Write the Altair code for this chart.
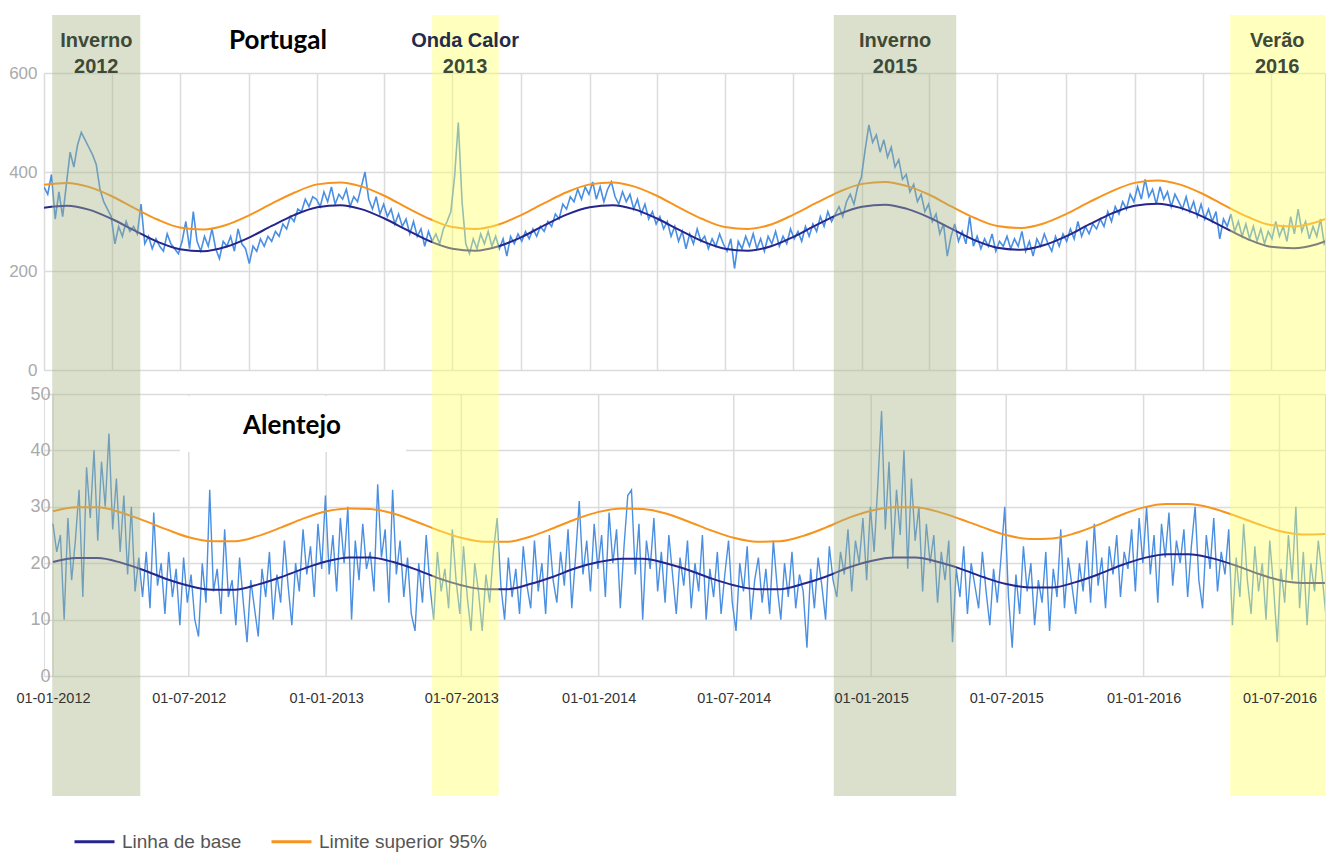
import altair as alt
import pandas as pd

# ---------------- data ----------------
START_DATE = "2012-01-01"
STEP_DAYS = 5

# Portugal: observed deaths (one reading every 5 days)
pt_obitos = [
    370, 355, 395, 305, 360, 310, 375, 440, 410, 455, 480, 465,
    450, 435, 415, 365, 340, 325, 310, 255, 290, 270, 300, 280,
    290, 275, 335, 255, 270, 245, 265, 250, 240, 275, 255, 245,
    235, 260, 300, 245, 320, 260, 240, 270, 250, 285, 245, 225,
    260, 250, 270, 240, 285, 255,
    245, 215, 250, 240, 265, 250, 270, 260, 280, 270, 295, 285, 310, 300, 325, 320, 345, 330, 350,
    # 2013
    345, 330, 360, 340, 370, 335, 355, 345, 365, 330, 350, 340,
    370, 400, 345, 325, 350, 315, 335, 310, 325, 295, 315, 290,
    305, 275, 300, 270, 285, 250, 280, 260, 275, 255, 285, 300,
    320, 390, 500, 340, 255, 235, 265, 245, 275, 255, 280, 250,
    270, 245, 265, 230, 270, 255, 275, 260, 280, 265,
    285, 270, 290, 280, 300, 290, 315, 305, 335, 325, 350, 340, 365, 345, 370,
    # 2014
    355, 380, 345, 370, 340, 365, 380, 350, 335, 360, 340, 355,
    325, 345, 315, 335, 305, 320, 295, 310, 285, 300, 270, 290,
    260, 280, 245, 275, 255, 285, 260, 270, 245, 265, 250, 275,
    255, 240, 265, 205, 260, 245, 270, 250, 275, 245, 265, 240,
    270, 255, 280, 250, 270, 255, 285, 265, 280, 260, 290, 270,
    295, 280, 310, 290, 320, 300, 315, 330, 310, 340, 355, 335, 370, 390,
    # 2015
    445, 495, 460, 475, 440, 465, 430, 450, 410, 425, 385, 395,
    360, 375, 340, 355, 320, 335, 300, 315, 275, 295, 230, 270,
    295, 260, 280, 255, 310, 250, 270, 245, 265, 250, 275, 240,
    260, 250, 270, 245, 265, 250, 280, 240, 260, 230, 265, 250,
    275, 255, 240, 270, 250, 275, 260, 285, 265, 300, 270, 290,
    275, 295, 285, 305, 290, 320, 300, 330, 315, 340, 325, 355,
    # 2016
    340, 370, 345, 385, 350, 365, 335, 370, 345, 360, 330, 355,
    340, 325, 350, 320, 340, 310, 335, 305, 325, 300, 320, 265,
    305, 290, 315, 280, 300, 270, 295, 265, 290, 260, 285, 255,
    280, 265, 300, 270, 290, 260, 310, 275, 325, 280, 300, 265,
    290, 270, 305, 255, 270, 235,
]

# Alentejo: observed deaths (one reading every 5 days)
al_obitos = [
    27, 22, 25, 10, 28, 17, 24, 33, 14, 37, 28, 40,
    24, 38, 30, 43, 26, 35, 22, 32, 18, 30, 15, 21,
    14, 22, 12, 29, 16, 20, 11, 22, 14, 19, 9, 21,
    13, 18, 10, 7, 20, 13, 33, 15, 19, 11, 26, 14,
    17, 9, 21, 13, 6, 17, 12, 7, 19, 14, 22, 10,
    18, 13, 24, 16, 9, 20, 15, 26, 18, 23, 14, 27, 19,
    # 2013
    32, 18, 25, 15, 28, 20, 30, 10, 24, 17, 27, 19,
    22, 15, 34, 21, 26, 13, 33, 18, 24, 14, 21, 11,
    8, 20, 13, 25, 16, 10, 22, 15, 19, 12, 26, 17,
    11, 23, 14, 8, 20, 15, 8, 18, 13, 22, 28, 16,
    10, 21, 14, 19, 11, 23, 16, 12, 24, 15, 20, 11,
    25, 17, 13, 22, 16, 26, 12, 21, 31, 18, 24, 15, 27,
    # 2014
    19, 25, 14, 29, 20, 26, 12, 23, 32, 33, 18, 27,
    10, 24, 19, 28, 15, 22, 13, 25, 18, 11, 21, 16,
    24, 12, 20, 15, 25, 10, 19, 14, 22, 11, 18, 24,
    13, 8, 20, 15, 23, 10, 17, 21, 13, 19, 11, 24,
    16, 10, 20, 14, 22, 12, 18, 15, 5, 19, 12, 21,
    16, 10, 23, 17, 14, 22, 18, 26, 15, 24, 20, 28, 17, 30,
    # 2015
    22, 34, 47, 26, 38, 21, 33, 25, 40, 19, 35, 24,
    30, 15, 27, 20, 25, 13, 22, 17, 24, 6, 19, 14,
    23, 11, 20, 16, 12, 22, 15, 9, 19, 13, 21, 30,
    14, 5, 18, 11, 23, 15, 20, 9, 17, 13, 22, 8,
    19, 14, 26, 12, 21, 16, 11, 20, 15, 24, 13, 27,
    16, 21, 12, 23, 18, 25, 14, 22, 19, 26, 15, 28,
    # 2016
    20, 30, 18, 25, 13, 27, 21, 29, 16, 24, 20, 26,
    14, 23, 30, 17, 12, 25, 19, 28, 15, 22, 18, 26,
    9, 21, 14, 27, 17, 11, 23, 15, 20, 10, 24, 16,
    6, 19, 13, 25, 17, 30, 12, 22, 9, 20, 15, 24,
    18, 11, 25, 14, 21, 9,
]

# Reference curves, one reading on the 1st of each month
REF_START = "2012-01-01"
pt_base = [
    328, 332, 324, 305, 282, 259, 244, 240, 249, 267, 291, 313,
    329, 333, 325, 306, 283, 260, 245, 241, 250, 268, 292, 314,
    329, 333, 325, 306, 283, 260, 245, 241, 250, 269, 293, 315,
    330, 334, 326, 308, 285, 262, 247, 243, 252, 270, 294, 316,
    332, 336, 328, 310, 287, 264, 249, 246, 254, 272,
]
pt_lim = [
    374, 378, 370, 351, 327, 304, 288, 284, 293, 312, 336, 358,
    375, 379, 371, 352, 328, 305, 289, 285, 294, 313, 337, 359,
    375, 379, 371, 352, 328, 305, 289, 285, 294, 314, 338, 360,
    376, 380, 372, 354, 330, 307, 291, 287, 296, 315, 339, 361,
    378, 383, 375, 356, 332, 309, 293, 290, 299, 317,
]
al_base = [
    20.2, 20.9, 20.9, 20.1, 18.8, 17.2, 16.0, 15.3, 15.3, 16.2, 17.5, 19.0,
    20.3, 21.0, 21.0, 20.2, 18.9, 17.3, 16.1, 15.4, 15.4, 16.3, 17.6, 19.1,
    20.2, 20.8, 20.8, 20.0, 18.8, 17.3, 16.1, 15.4, 15.4, 16.3, 17.6, 19.2,
    20.4, 21.0, 21.0, 20.2, 19.0, 17.5, 16.3, 15.7, 15.7, 16.6, 18.0, 19.6,
    20.9, 21.6, 21.6, 20.9, 19.7, 18.2, 17.0, 16.5, 16.5, 17.3,
]
al_lim = [
    29.2, 29.9, 29.9, 29.0, 27.6, 26.0, 24.6, 23.9, 23.9, 24.8, 26.3, 27.9,
    29.2, 29.7, 29.6, 28.8, 27.4, 25.8, 24.5, 23.8, 23.8, 24.7, 26.2, 27.8,
    29.1, 29.7, 29.6, 28.8, 27.4, 25.8, 24.5, 23.8, 23.9, 24.8, 26.3, 28.0,
    29.3, 29.9, 29.9, 29.1, 27.8, 26.3, 25.0, 24.3, 24.4, 25.3, 26.8, 28.5,
    29.9, 30.5, 30.5, 29.8, 28.5, 27.0, 25.7, 25.1, 25.2, 26.0,
]

series_names = ["Linha de base", "Limite superior 95%"]
panel_titles = ["Portugal", "Alentejo"]

# highlighted periods (dates read on the labelled, lower time axis)
band_line1 = ["Inverno", "Onda Calor", "Inverno", "Verão"]
band_line2 = ["2012", "2013", "2015", "2016"]
band_start = ["2011-12-31", "2013-05-23", "2014-11-12", "2016-04-26"]
band_end = ["2012-04-27", "2013-08-20", "2015-04-25", "2016-08-31"]

# labelled dates of the lower time axis
x_tick_dates = ["2012-01-01", "2012-07-01", "2013-01-01", "2013-07-01", "2014-01-01",
                "2014-07-01", "2015-01-01", "2015-07-01", "2016-01-01", "2016-07-01"]
x_label_format = "%d-%m-%Y"

# time windows; the upper picture is pasted 12 days (about 9 px) to the left
x_domain_bottom = ["2011-12-20", "2016-08-31"]
TOP_SHIFT_DAYS = 12

pt_y_ticks = [0, 200, 400, 600]
al_y_ticks = [0, 10, 20, 30, 40, 50]

# ---------------- styles ----------------
BLUE = "#4a8fe2"
NAVY = "#25258c"
ORANGE = "#f7941d"
GREEN_BAND = "#a7b586"
YELLOW_BAND = "#ffff64"
BAND_OPACITY = 0.42
OLIVE_TXT = "#3e4a36"
NAVY_TXT = "#1f2c4c"
GRID = "#dcdcdc"
FONT = "Liberation Sans"

W = 1281
H_TOP = 297
H_BOT = 282

# ---------------- tables ----------------
fmt = "%Y-%m-%d"
shift = pd.Timedelta(days=TOP_SHIFT_DAYS)

pt_obs = pd.DataFrame({
    "date": pd.date_range(START_DATE, periods=len(pt_obitos), freq=f"{STEP_DAYS}D").strftime(fmt),
    "value": pt_obitos,
})
al_obs = pd.DataFrame({
    "date": pd.date_range(START_DATE, periods=len(al_obitos), freq=f"{STEP_DAYS}D").strftime(fmt),
    "value": al_obitos,
})


def ref_table(base, lim):
    d = pd.date_range(REF_START, periods=len(base), freq="MS").strftime(fmt)
    return pd.concat([
        pd.DataFrame({"date": d, "value": base, "serie": series_names[0]}),
        pd.DataFrame({"date": d, "value": lim, "serie": series_names[1]}),
    ], ignore_index=True)


pt_ref = ref_table(pt_base, pt_lim)
al_ref = ref_table(al_base, al_lim)

bs = pd.to_datetime(pd.Series(band_start))
be = pd.to_datetime(pd.Series(band_end))
bands = pd.DataFrame({
    "l1": band_line1,
    "l2": band_line2,
    "start": bs.dt.strftime(fmt),
    "end": be.dt.strftime(fmt),
    "start_top": (bs + shift).dt.strftime(fmt),
    "end_top": (be + shift).dt.strftime(fmt),
    "mid_top": (bs + shift + (be - bs) / 2).dt.strftime(fmt),
})
ticks_df = pd.DataFrame({"date": x_tick_dates})


def dt(s):
    t = pd.Timestamp(s)
    return alt.DateTime(year=t.year, month=t.month, date=t.day, utc=True)


dom_bot = [dt(x_domain_bottom[0]), dt(x_domain_bottom[1])]
dom_top = [dt(pd.Timestamp(x_domain_bottom[0]) + shift), dt(pd.Timestamp(x_domain_bottom[1]) + shift)]

axis_x_top = alt.Axis(labels=False, ticks=False, tickSize=0, domain=False, grid=True,
                      gridColor=GRID, gridWidth=1.5, title=None,
                      tickCount={"interval": "month", "step": 3})
# labels drawn above the shaded periods; the vertical grid is drawn as rules below them
axis_x_bot = alt.Axis(values=[dt(d) for d in x_tick_dates],
                      labelExpr=f"utcFormat(datum.value, '{x_label_format}')", labelFontSize=14.5,
                      labelColor="#333333", labelFont=FONT, labelPadding=15, labelFlush=False,
                      ticks=False, tickSize=0, domain=False, grid=False, title=None, zindex=1)


def x_top(field):
    return alt.X(f"{field}:T", scale=alt.Scale(type="utc", domain=dom_top), axis=axis_x_top)


def x_bot(field):
    return alt.X(f"{field}:T", scale=alt.Scale(type="utc", domain=dom_bot), axis=axis_x_bot)


y_top = alt.Y("value:Q", scale=alt.Scale(domain=[0, 600]),
              axis=alt.Axis(values=pt_y_ticks, title=None, labelFontSize=17, labelColor="#aaaaaa",
                            labelFont=FONT, labelPadding=7, ticks=False, tickSize=0, domain=False,
                            gridColor=GRID, gridWidth=1.5))
y_bot = alt.Y("value:Q", scale=alt.Scale(domain=[0, 50]),
              axis=alt.Axis(values=al_y_ticks, title=None, labelFontSize=18, labelColor="#aaaaaa",
                            labelFont=FONT, labelPadding=3, offset=-9, ticks=False, tickSize=0,
                            domain=False, gridColor=GRID, gridWidth=1.5))

ref_color_top = alt.Color("serie:N", scale=alt.Scale(domain=series_names, range=[NAVY, ORANGE]),
                          legend=None)
ref_color_bot = alt.Color(
    "serie:N", scale=alt.Scale(domain=series_names, range=[NAVY, ORANGE]),
    legend=alt.Legend(orient="none", legendX=29, legendY=426, direction="horizontal", title=None,
                      symbolType="stroke", symbolSize=1600, symbolStrokeWidth=3,
                      labelFontSize=19, labelColor="#555555", labelFont=FONT, labelLimit=400,
                      labelOffset=6, columnPadding=23, padding=0))

band_color = alt.condition(alt.datum.l1 == "Inverno", alt.value(GREEN_BAND), alt.value(YELLOW_BAND))
label_color = alt.condition(alt.datum.l1 == "Onda Calor", alt.value(NAVY_TXT), alt.value(OLIVE_TXT))

# ---------------- upper panel: Portugal ----------------
top_obs = alt.Chart(pt_obs).mark_line(color=BLUE, strokeWidth=1.6, clip=True).encode(
    x=x_top("date"), y=y_top)
top_ref = alt.Chart(pt_ref).mark_line(strokeWidth=2, clip=True, interpolate="monotone").encode(
    x=x_top("date"), y=y_top, color=ref_color_top)
top_bands = alt.Chart(bands).mark_rect(opacity=BAND_OPACITY).encode(
    x=x_top("start_top"), x2="end_top:T",
    y=alt.value(-58), y2=alt.value(H_TOP), color=band_color)
top_lab1 = alt.Chart(bands).mark_text(fontSize=20, fontWeight="bold", font=FONT, baseline="middle").encode(
    x=x_top("mid_top"), y=alt.value(-32), text="l1:N", color=label_color)
top_lab2 = alt.Chart(bands).mark_text(fontSize=20, fontWeight="bold", font=FONT, baseline="middle",
                                      color=OLIVE_TXT).encode(
    x=x_top("mid_top"), y=alt.value(-6), text="l2:N")
top_title = alt.Chart(pd.DataFrame({"t": [panel_titles[0]]})).mark_text(
    fontSize=26, fontWeight="bold", font="Lato", color="black", baseline="middle").encode(
    x=alt.value(234), y=alt.value(-32), text="t:N")

top = alt.layer(top_obs, top_ref, top_bands, top_lab1, top_lab2, top_title).properties(
    width=W, height=H_TOP)

# ---------------- lower panel: Alentejo ----------------
bot_grid = alt.Chart(ticks_df).mark_rule(color=GRID, strokeWidth=1.5).encode(x=x_bot("date"))
bot_obs = alt.Chart(al_obs).mark_line(color=BLUE, strokeWidth=1.4, clip=True).encode(
    x=x_bot("date"), y=y_bot)
bot_ref = alt.Chart(al_ref).mark_line(strokeWidth=2, clip=True, interpolate="monotone").encode(
    x=x_bot("date"), y=y_bot, color=ref_color_bot)
bot_box = alt.Chart(pd.DataFrame({"t": [panel_titles[1]]})).mark_rect(color="white").encode(
    x=alt.value(136), x2=alt.value(362), y=alt.value(2), y2=alt.value(58))
bot_title = alt.Chart(pd.DataFrame({"t": [panel_titles[1]]})).mark_text(
    fontSize=26, fontWeight="bold", font="Lato", color="black", baseline="middle").encode(
    x=alt.value(248), y=alt.value(32), text="t:N")
bot_bands = alt.Chart(bands).mark_rect(opacity=BAND_OPACITY).encode(
    x=x_bot("start"), x2="end:T",
    y=alt.value(-24), y2=alt.value(402), color=band_color)

bottom = alt.layer(bot_grid, bot_obs, bot_ref, bot_box, bot_title, bot_bands).properties(
    width=W, height=H_BOT)

chart = alt.vconcat(top, bottom, spacing=24, bounds="flush").resolve_scale(
    x="independent", y="independent", color="independent"
).resolve_legend(color="independent").properties(
    padding={"left": 0, "top": 6, "right": 0, "bottom": 0}
).configure_view(stroke=None).configure(background="white")

chart.save("out.html", embed_options={"renderer": "svg", "actions": False})
